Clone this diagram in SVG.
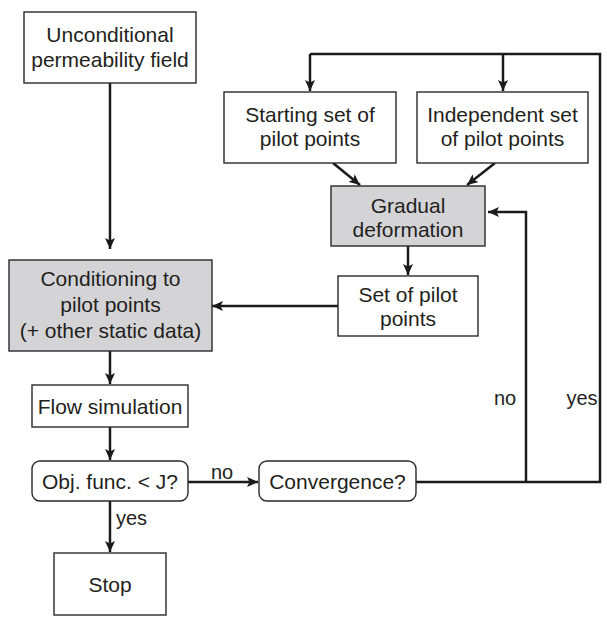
<svg xmlns="http://www.w3.org/2000/svg" width="607" height="617" viewBox="0 0 607 617">
<style>
.box{fill:#fff;stroke:#2a2a2a;stroke-width:1.4}
.gray{fill:#d4d4d6;stroke:#2a2a2a;stroke-width:1.4}
.t{font-family:"Liberation Sans",Arial,sans-serif;font-size:21px;fill:#231f20;text-anchor:middle}
.lbl{font-family:"Liberation Sans",Arial,sans-serif;font-size:20px;fill:#231f20}
.c{fill:none;stroke:#1a1a1a;stroke-width:2.5}
</style>
<defs>
<marker id="ah" markerUnits="userSpaceOnUse" markerWidth="12" markerHeight="10" refX="11" refY="5" orient="auto">
<path d="M0,0 L11,5 L0,10 L2.5,5 Z" fill="#1a1a1a"/>
</marker>
</defs>
<g id="connectors">
<path class="c" d="M110,83 V249" marker-end="url(#ah)"/>
<path class="c" d="M310,54 H600 V482 H416"/>
<path class="c" d="M310,54 V91" marker-end="url(#ah)"/>
<path class="c" d="M503,54 V91" marker-end="url(#ah)"/>
<path class="c" d="M333,163 L360,185" marker-end="url(#ah)"/>
<path class="c" d="M495,163 L467,185" marker-end="url(#ah)"/>
<path class="c" d="M526,482 V212 H488" marker-end="url(#ah)"/>
<path class="c" d="M408,246 V275" marker-end="url(#ah)"/>
<path class="c" d="M338,306 H212" marker-end="url(#ah)"/>
<path class="c" d="M110,351 V384" marker-end="url(#ah)"/>
<path class="c" d="M110,427 V460" marker-end="url(#ah)"/>
<path class="c" d="M188,482 H258" marker-end="url(#ah)"/>
<path class="c" d="M110,501 V552" marker-end="url(#ah)"/>
<text class="lbl" x="211" y="479">no</text>
<text class="lbl" x="116" y="525">yes</text>
<text class="lbl" x="505" y="405" text-anchor="middle">no</text>
<text class="lbl" x="582" y="405" text-anchor="middle">yes</text>
</g>
<g id="unconditional">
<rect class="box" x="24" y="12" width="172" height="71"/>
<text class="t" x="110" y="42">Unconditional</text>
<text class="t" x="110" y="67">permeability field</text>
</g>
<g id="starting">
<rect class="box" x="224" y="92" width="172" height="71"/>
<text class="t" x="310" y="122">Starting set of</text>
<text class="t" x="310" y="146">pilot points</text>
</g>
<g id="independent">
<rect class="box" x="417" y="92" width="171" height="71"/>
<text class="t" x="502.5" y="122">Independent set</text>
<text class="t" x="502.5" y="146">of pilot points</text>
</g>
<g id="gradual">
<rect class="gray" x="331" y="186" width="154" height="60"/>
<text class="t" x="408" y="213">Gradual</text>
<text class="t" x="408" y="237">deformation</text>
</g>
<g id="setpilot">
<rect class="box" x="338" y="276" width="140" height="60"/>
<text class="t" x="408" y="302">Set of pilot</text>
<text class="t" x="408" y="326">points</text>
</g>
<g id="conditioning">
<rect class="gray" x="9" y="260" width="203" height="91"/>
<text class="t" x="110.5" y="286">Conditioning to</text>
<text class="t" x="110.5" y="312">pilot points</text>
<text class="t" x="110.5" y="338">(+ other static data)</text>
</g>
<g id="flow">
<rect class="box" x="32" y="385" width="156" height="42"/>
<text class="t" x="110" y="414">Flow simulation</text>
</g>
<g id="objfunc">
<rect class="box" x="32" y="461" width="156" height="40" rx="8"/>
<text class="t" x="110" y="489">Obj. func. &lt; J?</text>
</g>
<g id="convergence">
<rect class="box" x="259" y="461" width="157" height="40" rx="8"/>
<text class="t" x="337.5" y="489">Convergence?</text>
</g>
<g id="stop">
<rect class="box" x="54" y="553" width="112" height="62"/>
<text class="t" x="110" y="592">Stop</text>
</g>
</svg>
